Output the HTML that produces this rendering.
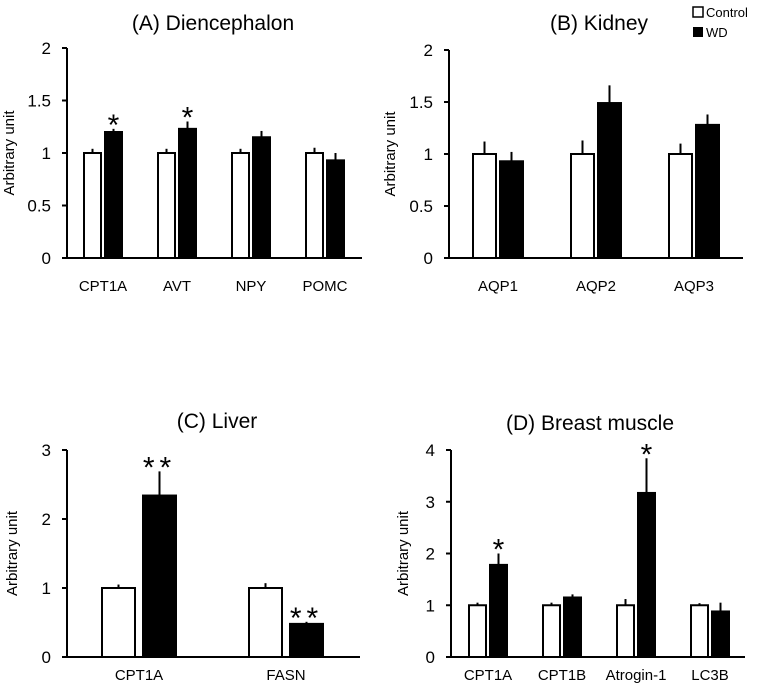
<!DOCTYPE html>
<html><head><meta charset="utf-8"><style>
body{margin:0;background:#fff}
svg{display:block;font-family:"Liberation Sans",sans-serif}
</style></head><body>
<svg id="c" width="758" height="693" viewBox="0 0 758 693"></svg>
<script>
const catsA=["CPT1A","AVT","NPY","POMC"];
const ctrlA=[1,1,1,1];
const ctrlErrA=[0.04,0.04,0.04,0.05];
const wdA=[1.2,1.23,1.15,0.93];
const wdErrA=[0.03,0.07,0.06,0.07];
const starsA=["*","*","",""];
const ticksA=["0","0.5","1","1.5","2"];

const catsB=["AQP1","AQP2","AQP3"];
const ctrlB=[1,1,1];
const ctrlErrB=[0.12,0.13,0.1];
const wdB=[0.93,1.49,1.28];
const wdErrB=[0.09,0.17,0.1];
const starsB=["","",""];
const ticksB=["0","0.5","1","1.5","2"];

const catsC=["CPT1A","FASN"];
const ctrlC=[1,1];
const ctrlErrC=[0.05,0.07];
const wdC=[2.34,0.48];
const wdErrC=[0.35,0.03];
const starsC=["**","**"];
const ticksC=["0","1","2","3"];

const catsD=["CPT1A","CPT1B","Atrogin-1","LC3B"];
const ctrlD=[1,1,1,1];
const ctrlErrD=[0.05,0.05,0.12,0.04];
const wdD=[1.78,1.15,3.17,0.88];
const wdErrD=[0.22,0.06,0.67,0.17];
const starsD=["*","","*",""];
const ticksD=["0","1","2","3","4"];

const NS="http://www.w3.org/2000/svg";
const svg=document.getElementById('c');
function mk(tag,attrs,parent){const e=document.createElementNS(NS,tag);for(const k in attrs)e.setAttribute(k,attrs[k]);(parent||svg).appendChild(e);return e;}

function panel(id,title,titleX,titleY,ax,top,zero,xend,ymax,cats,ctrl,ce,wd,we,stars,ticks,first,spacing,bw,gap,labY,ytX){
  const g=mk('g',{});
  
  
  const y=v=>zero-(v/ymax)*(zero-top);
  const t=mk('text',{x:titleX,y:titleY,'text-anchor':'middle','font-size':21,fill:'#000'},g);t.textContent=title;
  
  
  const ya=mk('line',{x1:ax,y1:top,x2:ax,y2:zero,stroke:'#000','stroke-width':2},g);
  
  
  const xa=mk('line',{x1:ax,y1:zero,x2:xend,y2:zero,stroke:'#000','stroke-width':2},g);
  
  
  ticks.forEach(tk=>{const yy=y(parseFloat(tk));
    mk('line',{x1:ax-5,y1:yy,x2:ax,y2:yy,stroke:'#000','stroke-width':2},g);
    const tt=mk('text',{x:ax-16,y:yy+6,'text-anchor':'end','font-size':17},g);tt.textContent=tk;
    
    
  });
  const yt=mk('text',{x:0,y:0,'text-anchor':'middle','font-size':15,transform:`translate(${ytX},${(top+zero)/2}) rotate(-90)`},g);yt.textContent='Arbitrary unit';
  
  
  cats.forEach((c,i)=>{
    const x0=first+i*spacing;
    const cb=mk('rect',{x:x0,y:y(ctrl[i]),width:bw,height:zero-y(ctrl[i]),fill:'#fff',stroke:'#000','stroke-width':2},g);
    
    
    mk('line',{x1:x0+bw/2,y1:y(ctrl[i]),x2:x0+bw/2,y2:y(ctrl[i]+ce[i]),stroke:'#000','stroke-width':2},g);
    const x1=x0+bw+gap;
    const wb=mk('rect',{x:x1,y:y(wd[i]),width:bw,height:zero-y(wd[i]),fill:'#000',stroke:'#000','stroke-width':2},g);
    
    
    mk('line',{x1:x1+bw/2,y1:y(wd[i]),x2:x1+bw/2,y2:y(wd[i]+we[i]),stroke:'#000','stroke-width':2},g);
    if(stars[i]){const s=mk('text',{x:x1+bw/2,y:y(wd[i]+we[i])+6,'text-anchor':'middle','font-size':30,'letter-spacing':stars[i].length>1?5:0},g);s.textContent=stars[i];
      
      }
    const l=mk('text',{x:x0+bw+gap/2,y:labY,'text-anchor':'middle','font-size':15},g);l.textContent=c;
    
    
  });
}
panel('a','(A) Diencephalon',213,30,67,48,258,362,2,catsA,ctrlA,ctrlErrA,wdA,wdErrA,starsA,ticksA,84,74,17,4,291,14);
panel('b','(B) Kidney',599,30,449,50,258,743,2,catsB,ctrlB,ctrlErrB,wdB,wdErrB,starsB,ticksB,473,98,23,4,291,395);
panel('c','(C) Liver',217,428,67,450,657,360,3,catsC,ctrlC,ctrlErrC,wdC,wdErrC,starsC,ticksC,102,147,33,8,680,17);
panel('d','(D) Breast muscle',590,430,451,450,657,745,4,catsD,ctrlD,ctrlErrD,wdD,wdErrD,starsD,ticksD,469,74,17,4,680,408);

const lg=mk('g',{});


const r1=mk('rect',{x:693,y:7,width:10,height:10,fill:'#fff',stroke:'#000','stroke-width':1.5},lg);


const t1=mk('text',{x:706,y:17,'font-size':13},lg);t1.textContent='Control';


const r2=mk('rect',{x:693,y:27,width:10,height:10,fill:'#000'},lg);


const t2=mk('text',{x:706,y:37,'font-size':13},lg);t2.textContent='WD';


</script>
</body></html>
